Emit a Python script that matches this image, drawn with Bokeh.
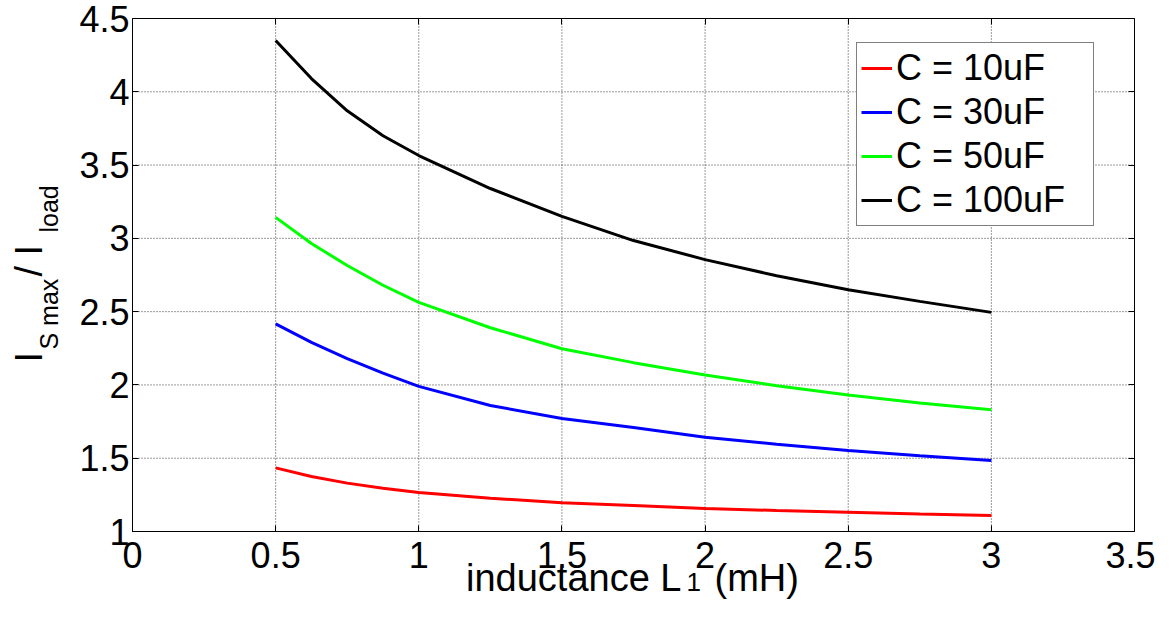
import math
from bokeh.plotting import figure
from bokeh.models import Range1d, FixedTicker, Label, Legend, LinearAxis
from bokeh.embed import file_html
from bokeh.resources import INLINE

# ---- data ----
inductance_mH = [0.5, 0.625, 0.75, 0.875, 1.0, 1.25, 1.5, 1.75, 2.0, 2.25, 2.5, 2.75, 3.0]
ratio_c10 = [1.434, 1.375, 1.33, 1.295, 1.266, 1.227, 1.196, 1.177, 1.157, 1.143, 1.132, 1.12, 1.109]
ratio_c30 = [2.416, 2.29, 2.18, 2.08, 1.99, 1.86, 1.771, 1.71, 1.643, 1.596, 1.552, 1.517, 1.484]
ratio_c50 = [3.143, 2.965, 2.815, 2.68, 2.563, 2.39, 2.247, 2.152, 2.068, 1.995, 1.932, 1.877, 1.83]
ratio_c100 = [4.35, 4.09, 3.87, 3.70, 3.565, 3.34, 3.15, 2.985, 2.855, 2.745, 2.65, 2.57, 2.495]

series_labels = ["C = 10uF", "C = 30uF", "C = 50uF", "C = 100uF"]
series_colors = ["#ff0000", "#0000ff", "#00ff00", "#000000"]

x_ticks = [0, 0.5, 1, 1.5, 2, 2.5, 3, 3.5]
x_tick_labels = ["0", "0.5", "1", "1.5", "2", "2.5", "3", "3.5"]
y_ticks = [1, 1.5, 2, 2.5, 3, 3.5, 4, 4.5]
y_tick_labels = ["1", "1.5", "2", "2.5", "3", "3.5", "4", "4.5"]

FONT = "Liberation Sans"
TICK_SIZE = "36px"

# axes box limits (data) and where the box sits on the canvas (pixels)
X0, X1, Y0, Y1 = 0.0, 3.5, 1.0, 4.5
W, H = 1155, 603
BOX_L, BOX_R, BOX_T, BOX_B = 132, 1134, 18, 531

sx = (BOX_R - BOX_L) / (X1 - X0)
sy = (BOX_B - BOX_T) / (Y1 - Y0)
xr = Range1d(X0 - BOX_L / sx, X1 + (W - BOX_R) / sx)
yr = Range1d(Y0 - (H - BOX_B) / sy, Y1 + BOX_T / sy)


def px_to_data(px, py):
    return (X0 + (px - BOX_L) / sx, Y0 + (BOX_B - py) / sy)


p = figure(width=W, height=H, output_backend="svg", toolbar_location=None,
           x_range=xr, y_range=yr, min_border=0)
p.background_fill_color = "white"
p.border_fill_color = "white"
p.outline_line_color = None
p.xgrid.visible = False
p.ygrid.visible = False

# dotted grid inside the box, drawn at the tick positions
nx, ny = len(x_ticks), len(y_ticks)
p.segment(x0=x_ticks, y0=[Y0] * nx, x1=x_ticks, y1=[Y1] * nx,
          line_color="#111111", line_alpha=0.85, line_dash="1 2", line_width=1)
p.segment(x0=[X0] * ny, y0=y_ticks, x1=[X1] * ny, y1=y_ticks,
          line_color="#111111", line_alpha=0.85, line_dash="1 2", line_width=1)

renderers = []
for ys, lab, col in zip([ratio_c10, ratio_c30, ratio_c50, ratio_c100], series_labels, series_colors):
    r = p.line(inductance_mH, ys, line_color=col, line_width=3)
    renderers.append((lab, r))


def style_axis(ax, ticks, labels, show_labels=True):
    ax.ticker = FixedTicker(ticks=ticks)
    ax.major_label_overrides = {t: l for t, l in zip(ticks, labels)}
    ax.major_label_text_font = FONT
    ax.major_label_text_font_size = TICK_SIZE
    ax.major_label_text_color = "black" if show_labels else None
    ax.major_tick_in = 6
    ax.major_tick_out = 0
    ax.minor_tick_in = 0
    ax.minor_tick_out = 0
    ax.axis_line_color = "black"
    ax.axis_line_width = 1
    ax.major_tick_line_color = "black"
    ax.axis_label = None


xa = p.xaxis[0]
ya = p.yaxis[0]
style_axis(xa, x_ticks, x_tick_labels)
style_axis(ya, y_ticks, y_tick_labels)
xa.fixed_location = Y0
xa.bounds = (X0, X1)
ya.fixed_location = X0
ya.bounds = (Y0, Y1)
xa.major_label_standoff = 10
ya.major_label_standoff = 3

top_ax = LinearAxis(fixed_location=Y1, bounds=(X0, X1))
style_axis(top_ax, x_ticks, x_tick_labels, show_labels=False)
right_ax = LinearAxis(fixed_location=X1, bounds=(Y0, Y1))
style_axis(right_ax, y_ticks, y_tick_labels, show_labels=False)
p.add_layout(top_ax, "above")
p.add_layout(right_ax, "right")

# legend
legend = Legend(items=[(lab, [r]) for lab, r in renderers], location=(856, H - 226))
legend.label_text_font = FONT
legend.label_text_font_size = "36px"
legend.label_text_color = "black"
legend.glyph_width = 31
legend.glyph_height = 40
legend.label_height = 40
legend.label_width = 193
legend.label_standoff = 4
legend.spacing = 2
legend.padding = 4
legend.margin = 0
legend.border_line_color = "black"
legend.border_line_width = 1
legend.background_fill_color = "white"
legend.background_fill_alpha = 1
p.add_layout(legend, "center")


def lab(text, px, py, size, align="left", angle=0.0):
    x, y = px_to_data(px, py)
    p.add_layout(Label(x=x, y=y, text=text,
                       text_font=FONT, text_font_size=size, text_color="black",
                       text_align=align, text_baseline="alphabetic", angle=angle))


# x axis label: inductance L_1 (mH)
lab("inductance L", 681, 577, "38px", align="right")
lab("1", 686, 581, "26px")
lab(" (mH)", 714, 577, "38px")

# y axis label: I_{S max} / I_{load}
A = math.pi / 2
lab("I", 28, 362, "38px", angle=A)
lab("S max", 48, 349, "25px", angle=A)
lab(" / I", 28, 276, "38px", angle=A)
lab("load", 48, 232, "25px", angle=A)

open("out.html", "w").write(file_html(p, INLINE))
